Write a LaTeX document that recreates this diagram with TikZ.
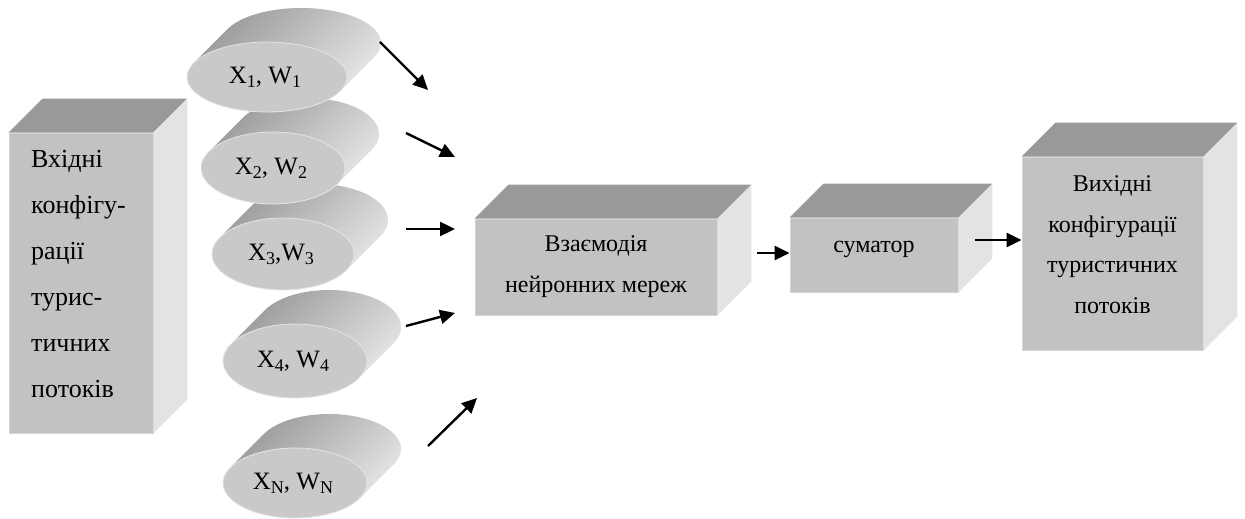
\documentclass[tikz,border=0pt]{standalone}
\usepackage{fontspec}
\setmainfont{Liberation Serif}
\usetikzlibrary{calc,arrows.meta,shapes.geometric}

% lowered index for the disk labels
\newcommand\lowidx[1]{\raisebox{-4pt}{\fontsize{18}{18}\selectfont #1}}

% top and right faces of a box whose front face is node #1
\newcommand\boxsides[1]{%
  \fill[topface] (#1.north west) -- ++(34,34) -- ($(#1.north east)+(34,34)$) -- (#1.north east) -- cycle;
  \fill[sideface] (#1.north east) -- ++(34,34) -- ($(#1.south east)+(34,34)$) -- (#1.south east) -- cycle;}

% slanted disk: #1 name, #2 x, #3 y, #4 x radius, #5 y radius, #6 label
\newcommand\drum[6]{%
  \pgfmathsetmacro\drumA{180-atan(#5/#4)}%
  \pgfmathsetmacro\drumB{-atan(#5/#4)}%
  \pgfmathsetmacro\drumC{\drumB-180}%
  \shade[cylshade] ($(#2,#3)+(\drumA:#4pt and #5pt)$) -- ++(34,34)
    arc[start angle=\drumA, end angle=\drumB, x radius=#4pt, y radius=#5pt] -- ++(-34,-34)
    arc[start angle=\drumB, end angle=\drumC, x radius=#4pt, y radius=#5pt] -- cycle;
  \node[disk, minimum width=2*#4pt, minimum height=2*#5pt] (#1) at (#2,#3) {};
  \node[disktxt] (#1l) at ($(#1)+(-2,-7)$) {#6};}

\begin{document}
\begin{tikzpicture}[x=1pt,y=1pt,
  frontface/.style={rectangle, fill=black!24, draw=black!17, line width=0.8pt, inner sep=0},
  topface/.style={fill=black!40},
  sideface/.style={fill=black!11},
  disk/.style={ellipse, fill=black!21, draw=black!10, line width=0.8pt, inner sep=0},
  cylshade/.style={top color=black!42, bottom color=black!7, shading angle=45},
  flow/.style={-{Triangle[length=15pt,width=14pt]}, line width=2.4pt},
  boxtxt/.style={inner sep=0, font=\fontsize{24}{40.5}\selectfont, align=center},
  disktxt/.style={inner sep=0, font=\fontsize{25}{30}\selectfont, anchor=base},
]
\useasboundingbox (0,0) rectangle (1245,519);

% input box
\node[frontface, minimum width=144, minimum height=300] (inbox) at (81,236) {};
\boxsides{inbox}
\node[inner sep=0, anchor=north west, align=left, font=\fontsize{26}{46}\selectfont]
  (intxt) at (31,369) {Вхідні\\конфігу-\\рації\\турис-\\тичних\\потоків};

% input disks
\drum{dN}{295}{36}{72}{35}{X\lowidx{N}, W\lowidx{N}}
\drum{d4}{295}{158}{72}{37}{X\lowidx{4}, W\lowidx{4}}
\drum{d3}{283}{265}{71}{36}{X\lowidx{3},W\lowidx{3}}
\drum{d2}{273}{351}{72}{36}{X\lowidx{2}, W\lowidx{2}}
\drum{d1}{267}{442}{80}{35}{X\lowidx{1}, W\lowidx{1}}

% network interaction box
\node[frontface, minimum width=242, minimum height=96] (net) at (596,252) {};
\boxsides{net}
\node[boxtxt, anchor=north] (nettxt) at (596,283.5) {Взаємодія\\нейронних мереж};

% summator
\node[frontface, minimum width=168, minimum height=74] (sum) at (874,264) {};
\boxsides{sum}
\node[boxtxt, anchor=base] (sumtxt) at (874,266) {суматор};

% output box
\node[frontface, minimum width=181, minimum height=193] (outbox) at (1112.5,265.5) {};
\boxsides{outbox}
\node[boxtxt, anchor=north] (outtxt) at (1112.5,343.5)
  {Вихідні\\конфігурації\\туристичних\\потоків};

% arrow ends
\coordinate (a1s) at (380,477); \coordinate (a1e) at (428,429);
\coordinate (a2s) at (406,386); \coordinate (a2e) at (455,362);
\coordinate (a3s) at (406,290); \coordinate (a3e) at (455,290);
\coordinate (a4s) at (406,193); \coordinate (a4e) at (455,206);
\coordinate (a5s) at (428,73);  \coordinate (a5e) at (477,121);
\coordinate (a6s) at (757,266);
\coordinate (a7s) at (975,279);

\draw[flow] (a1s) -- (a1e);
\draw[flow] (a2s) -- (a2e);
\draw[flow] (a3s) -- (a3e);
\draw[flow] (a4s) -- (a4e);
\draw[flow] (a5s) -- (a5e);
\draw[flow] (a6s) -- (a6s -| sum.west);
\draw[flow] (a7s) -- (a7s -| outbox.west);
\end{tikzpicture}
\end{document}
